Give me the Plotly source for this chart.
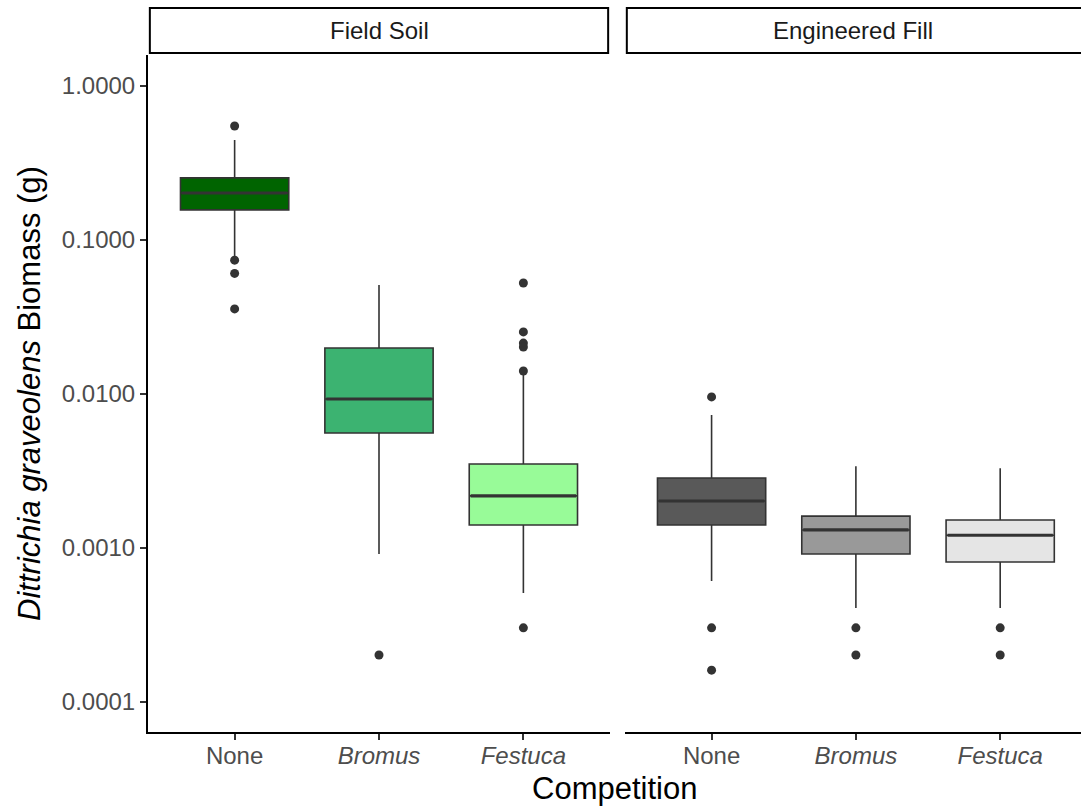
import plotly.graph_objects as go

# ---------------- data ----------------
categories = ["None", "Bromus", "Festuca"]
tick_labels = ["None", "<i>Bromus</i>", "<i>Festuca</i>"]
panels = ["Field Soil", "Engineered Fill"]

field_q1 = [0.157, 0.00558, 0.00141]
field_median = [0.202, 0.00928, 0.00218]
field_q3 = [0.253, 0.0199, 0.00351]
field_low = [0.0764, 0.000914, 0.000510]
field_high = [0.446, 0.051, 0.0139]
field_outliers = [
    [0.55, 0.074, 0.0607, 0.0357],
    [0.000202],
    [0.0526, 0.0253, 0.0214, 0.0202, 0.0141, 0.000303],
]

fill_q1 = [0.00141, 0.000914, 0.000811]
fill_median = [0.00202, 0.00131, 0.00121]
fill_q3 = [0.00285, 0.00161, 0.00152]
fill_low = [0.000611, 0.000408, 0.000408]
fill_high = [0.00731, 0.0034, 0.0033]
fill_outliers = [
    [0.00957, 0.000303, 0.000161],
    [0.000303, 0.000202],
    [0.000303, 0.000202],
]

field_colors = ["#006400", "#3CB371", "#98FB98"]
fill_colors = ["#595959", "#999999", "#E5E5E5"]

# ---------------- figure ----------------
fig = go.Figure()
positions = [1, 2, 3]
BOX_W = 0.75
EDGE = "#333333"

panel_data = [
    (field_q1, field_median, field_q3, field_low, field_high, field_outliers, field_colors, "x", "y"),
    (fill_q1, fill_median, fill_q3, fill_low, fill_high, fill_outliers, fill_colors, "x2", "y2"),
]

for q1s, meds, q3s, lows, highs, outs, cols, xa, ya in panel_data:
    for i, pos in enumerate(positions):
        fig.add_trace(go.Box(
            x=[pos], q1=[q1s[i]], median=[meds[i]], q3=[q3s[i]],
            lowerfence=[lows[i]], upperfence=[highs[i]],
            width=BOX_W, whiskerwidth=0,
            fillcolor=cols[i], line=dict(color=EDGE, width=1.6),
            boxpoints=False, xaxis=xa, yaxis=ya, showlegend=False,
            hoverinfo="skip",
        ))
        # thicker median line (ggplot style)
        fig.add_trace(go.Scatter(
            x=[pos - BOX_W / 2 + 0.01, pos + BOX_W / 2 - 0.01], y=[meds[i], meds[i]],
            mode="lines", line=dict(color=EDGE, width=3.2),
            xaxis=xa, yaxis=ya, showlegend=False, hoverinfo="skip",
        ))
        if outs[i]:
            fig.add_trace(go.Scatter(
                x=[pos] * len(outs[i]), y=outs[i], mode="markers",
                marker=dict(color=EDGE, size=9),
                xaxis=xa, yaxis=ya, showlegend=False, hoverinfo="skip",
            ))

FONT = "Liberation Sans, Arial, Helvetica, sans-serif"
W, H = 1081, 808
L, R, T, B = 148, 0, 55, 76
pw = W - L - R

xaxis_common = dict(
    tickmode="array", tickvals=positions, ticktext=tick_labels,
    showgrid=False, zeroline=False, showline=True, linecolor="black", linewidth=2,
    ticks="outside", ticklen=6, tickwidth=1.5, tickcolor=EDGE,
    tickfont=dict(family=FONT, size=24, color="#4D4D4D"),
    ticklabelstandoff=-5,
    automargin=False,
)

fig.update_layout(
    template="none",
    width=W, height=H,
    margin=dict(l=L, r=R, t=T, b=B),
    plot_bgcolor="white", paper_bgcolor="white",
    font=dict(family=FONT),
    xaxis=dict(domain=[0, (610 - L) / pw], range=[0.4, 3.6], **xaxis_common),
    xaxis2=dict(domain=[(625 - L) / pw, 1.0], range=[0.4, 3.56], anchor="y2", **xaxis_common),
    yaxis=dict(
        type="log", range=[-4.1948, 0.2013],
        tickmode="array", tickvals=[1, 0.1, 0.01, 0.001, 0.0001],
        ticktext=["1.0000", "0.1000", "0.0100", "0.0010", "0.0001"],
        showgrid=False, zeroline=False, showline=True, linecolor="black", linewidth=2,
        ticks="outside", ticklen=6, tickwidth=1.5, tickcolor=EDGE,
        tickfont=dict(family=FONT, size=24, color="#4D4D4D"),
        title=dict(text="<i>Dittrichia graveolens</i> Biomass (g)",
                   font=dict(family=FONT, size=31, color="black"), standoff=12),
        automargin=False,
    ),
    yaxis2=dict(
        type="log", range=[-4.1948, 0.2013], anchor="x2", matches="y",
        showgrid=False, zeroline=False, showline=False, showticklabels=False, ticks="",
        automargin=False,
    ),
)

# facet strips
for xref, x1 in [("x domain", 0.996), ("x2 domain", 1.02)]:
    fig.add_shape(type="rect", xref=xref, yref="y domain",
                  x0=0.004, x1=x1, y0=2, y1=47, ysizemode="pixel", yanchor=1,
                  line=dict(color="black", width=2), fillcolor="white")
for xref, label in [("x domain", panels[0]), ("x2 domain", panels[1])]:
    fig.add_annotation(xref=xref, yref="paper", x=0.5, y=1, yshift=24.5,
                       yanchor="middle", text=label, showarrow=False,
                       font=dict(family=FONT, size=24, color="#1A1A1A"))

# x axis title
fig.add_annotation(xref="paper", yref="paper", x=0.5, y=0, yshift=-56,
                   yanchor="middle", text="Competition", showarrow=False,
                   font=dict(family=FONT, size=31, color="black"))

fig.write_html("out.html")
